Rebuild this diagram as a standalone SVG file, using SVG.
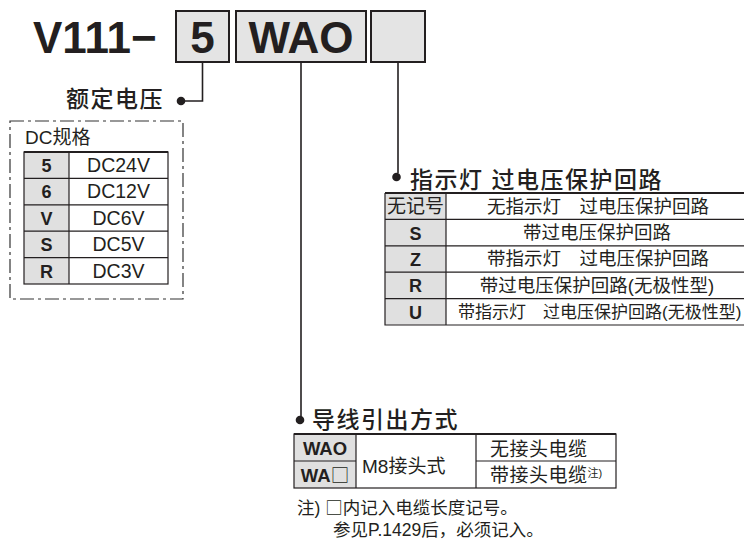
<svg xmlns="http://www.w3.org/2000/svg" width="744" height="540" viewBox="0 0 744 540">
<style>
text{font-family:"Liberation Sans","Noto Sans CJK SC",sans-serif;fill:#231f20}
.big{font-size:44px;font-weight:bold}
.hd{font-size:23px;letter-spacing:1.5px;font-weight:500}
.b{font-weight:bold}
.c{text-anchor:middle}
.sq{font-family:"Noto Sans CJK SC",sans-serif;font-weight:normal}
.box{fill:#e4e4e4;stroke:#231f20;stroke-width:2}
.key{fill:#e0e0e0}
.ln{stroke:#231f20;stroke-width:1.2;fill:none}
.th{stroke:#231f20;stroke-width:2.2;fill:none}
.con{stroke:#231f20;stroke-width:1.6;fill:none}
.dot{fill:#231f20}
</style>

<g id="header">
<text x="33" y="53" class="big">V111−</text>
<rect x="176" y="11" width="53" height="51" class="box"/>
<text x="202.5" y="53" class="big c">5</text>
<rect x="236" y="11" width="130" height="51" class="box"/>
<text x="301" y="53" class="big c">WAO</text>
<rect x="371" y="11" width="54" height="51" class="box"/>
</g>

<g id="connectors">
<polyline points="202.5,62 202.5,101 182,101" class="con"/>
<circle cx="181" cy="101" r="4.3" class="dot"/>
<line x1="301" y1="62" x2="301" y2="416" class="con"/>
<circle cx="300" cy="420" r="4.3" class="dot"/>
<line x1="398" y1="62" x2="398" y2="173" class="con"/>
<circle cx="396.5" cy="177" r="4.3" class="dot"/>
</g>

<g id="voltage">
<text x="66" y="107" class="hd">额定电压</text>
<rect x="10" y="121" width="173" height="178" fill="none" stroke="#333" stroke-width="1.2" stroke-dasharray="14 4 3 4"/>
<text x="25" y="144" font-size="19">DC规格</text>
<rect x="24" y="152" width="45" height="132" class="key"/>
<rect x="24" y="152" width="144" height="132" class="ln"/>
<line x1="24" y1="152" x2="168" y2="152" class="th"/>
<line x1="69" y1="152" x2="69" y2="284" class="ln"/>
<line x1="24" y1="178.4" x2="168" y2="178.4" class="ln"/>
<line x1="24" y1="204.8" x2="168" y2="204.8" class="ln"/>
<line x1="24" y1="231.2" x2="168" y2="231.2" class="ln"/>
<line x1="24" y1="257.6" x2="168" y2="257.6" class="ln"/>
<text x="46.5" y="172" font-size="18" class="b c">5</text>
<text x="46.5" y="198.4" font-size="18" class="b c">6</text>
<text x="46.5" y="224.8" font-size="18" class="b c">V</text>
<text x="46.5" y="251.2" font-size="18" class="b c">S</text>
<text x="46.5" y="277.6" font-size="18" class="b c">R</text>
<text x="118.5" y="172" font-size="19.5" class="c">DC24V</text>
<text x="118.5" y="198.4" font-size="19.5" class="c">DC12V</text>
<text x="118.5" y="224.8" font-size="19.5" class="c">DC6V</text>
<text x="118.5" y="251.2" font-size="19.5" class="c">DC5V</text>
<text x="118.5" y="277.6" font-size="19.5" class="c">DC3V</text>
</g>

<g id="indicator">
<text x="410" y="188" class="hd">指示灯 过电压保护回路</text>
<rect x="385" y="193" width="61" height="132" class="key"/>
<line x1="385" y1="193" x2="744" y2="193" class="th"/>
<polyline points="385,193 385,325 744,325" class="ln"/>
<line x1="446" y1="193" x2="446" y2="325" class="ln"/>
<line x1="385" y1="219.4" x2="744" y2="219.4" class="ln"/>
<line x1="385" y1="245.8" x2="744" y2="245.8" class="ln"/>
<line x1="385" y1="272.2" x2="744" y2="272.2" class="ln"/>
<line x1="385" y1="298.6" x2="744" y2="298.6" class="ln"/>
<text x="415.5" y="213" font-size="19" class="c">无记号</text>
<text x="415.5" y="239.5" font-size="18" class="b c">S</text>
<text x="415.5" y="265.9" font-size="18" class="b c">Z</text>
<text x="415.5" y="292.3" font-size="18" class="b c">R</text>
<text x="415.5" y="318.7" font-size="18" class="b c">U</text>
<text x="598" y="213" font-size="18.5" class="c">无指示灯　过电压保护回路</text>
<text x="597" y="239" font-size="18.5" class="c">带过电压保护回路</text>
<text x="598" y="265.4" font-size="18.5" class="c">带指示灯　过电压保护回路</text>
<text x="597" y="291.8" font-size="18.5" class="c">带过电压保护回路(无极性型)</text>
<text x="458" y="318.2" font-size="17">带指示灯　过电压保护回路(无极性型)</text>
</g>

<g id="leadwire">
<text x="312" y="428" class="hd">导线引出方式</text>
<rect x="294" y="434" width="62" height="54" class="key"/>
<rect x="294" y="434" width="322" height="54" class="ln"/>
<line x1="294" y1="434" x2="616" y2="434" class="th"/>
<line x1="356" y1="434" x2="356" y2="488" class="ln"/>
<line x1="476" y1="434" x2="476" y2="488" class="ln"/>
<line x1="294" y1="461" x2="356" y2="461" class="ln"/>
<line x1="476" y1="461" x2="616" y2="461" class="ln"/>
<text x="325" y="455" font-size="18.5" class="b c">WAO</text>
<text x="325" y="482" font-size="18.5" class="b c">WA<tspan class="sq">□</tspan></text>
<text x="362" y="473" font-size="19">M8接头式</text>
<text x="490" y="456" font-size="19" letter-spacing="0.5">无接头电缆</text>
<text x="490" y="482" font-size="19" letter-spacing="0.5">带接头电缆<tspan font-size="11" dy="-5" letter-spacing="0">注)</tspan></text>
<text x="297" y="514" font-size="17.5">注) <tspan class="sq">□</tspan>内记入电缆长度记号。</text>
<text x="333" y="536" font-size="17.5">参见P.1429后，必须记入。</text>
</g>
</svg>
